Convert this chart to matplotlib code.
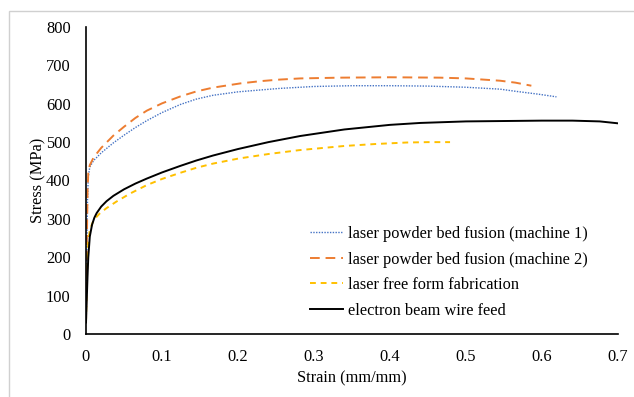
import matplotlib.pyplot as plt
from matplotlib.patches import Rectangle

plt.rcParams['font.family'] = ['Liberation Serif', 'DejaVu Serif']

# machine 1 (laser powder bed fusion)
lpbf1_strain = [0.0, 0.001, 0.002, 0.003, 0.005, 0.01, 0.02, 0.036, 0.05, 0.065, 0.08, 0.1,
                0.124, 0.145, 0.167, 0.2, 0.23, 0.255, 0.3, 0.35, 0.4, 0.45, 0.5, 0.545,
                0.567, 0.595, 0.619]
lpbf1_stress = [30, 200, 350, 410, 435, 452, 472, 498, 518, 538, 556, 577,
                598, 612, 622, 631, 636, 640, 645, 647, 647, 646, 643, 638,
                632, 625, 618]

# machine 2
lpbf2_strain = [0.0, 0.001, 0.002, 0.003, 0.005, 0.01, 0.02, 0.036, 0.05, 0.065, 0.08, 0.1,
                0.124, 0.145, 0.167, 0.203, 0.23, 0.255, 0.282, 0.334, 0.4, 0.466, 0.5,
                0.545, 0.565, 0.586]
lpbf2_stress = [30, 220, 370, 420, 440, 460, 485, 517, 540, 563, 582, 601,
                619, 632, 642, 653, 659, 663, 666, 668, 669, 668, 666,
                660, 655, 647]

# laser free form fabrication
lfff_strain = [0.0, 0.001, 0.002, 0.003, 0.005, 0.01, 0.018, 0.027, 0.04, 0.058, 0.08, 0.1,
               0.124, 0.145, 0.167, 0.2, 0.24, 0.28, 0.34, 0.38, 0.422, 0.45, 0.479]
lfff_stress = [30, 120, 200, 240, 271, 297, 314, 328, 345, 366, 388, 404,
               420, 433, 444, 457, 469, 479, 490, 495, 499, 500, 500]

# electron beam wire feed
ebwf_strain = [0.0, 0.001, 0.002, 0.003, 0.005, 0.008, 0.011, 0.014, 0.02, 0.027, 0.036, 0.05,
               0.065, 0.08, 0.1, 0.124, 0.145, 0.167, 0.2, 0.24, 0.282, 0.34, 0.4, 0.44,
               0.5, 0.55, 0.6, 0.64, 0.676, 0.7]
ebwf_stress = [30, 90, 150, 200, 254, 285, 303, 315, 332, 346, 360, 377,
               392, 405, 421, 438, 452, 465, 482, 500, 516, 533, 545, 550,
               554, 555, 556, 556, 554, 549]

xticks = [0, 0.1, 0.2, 0.3, 0.4, 0.5, 0.6, 0.7]
xticklabels = ['0', '0.1', '0.2', '0.3', '0.4', '0.5', '0.6', '0.7']
yticks = [0, 100, 200, 300, 400, 500, 600, 700, 800]

fs = 11.8
W, H = 634, 397

fig = plt.figure(figsize=(6.34, 3.97), dpi=100)
ax = fig.add_axes([86 / W, 1 - 334 / H, 532 / W, 307 / H])

# light outer frame of the excel chart area
fig.patches.append(Rectangle((9 / W, -0.05), 1.0, 1 - 11 / H + 0.05,
                             transform=fig.transFigure, fill=False,
                             edgecolor='#d0d0d0', linewidth=1.0))

ax.plot(lpbf1_strain, lpbf1_stress, color='#4472C4', linestyle=(0, (1, 1)), linewidth=1.0,
        label='laser powder bed fusion (machine 1)')
ax.plot(lpbf2_strain, lpbf2_stress, color='#ED7D31', linestyle=(0, (5, 3)), linewidth=1.4,
        label='laser powder bed fusion (machine 2)')
ax.plot(lfff_strain, lfff_stress, color='#FFC000', linestyle=(0, (3, 2.5)), linewidth=1.4,
        label='laser free form fabrication')
ax.plot(ebwf_strain, ebwf_stress, color='black', linewidth=1.4,
        label='electron beam wire feed')

ax.set_xlim(0, 0.7)
ax.set_ylim(0, 800)
ax.set_xticks(xticks)
ax.set_xticklabels(xticklabels)
ax.set_yticks(yticks)
ax.tick_params(axis='y', length=0, labelsize=fs, pad=11)
ax.tick_params(axis='x', length=0, labelsize=fs, pad=10.5)
for side in ['top', 'right']:
    ax.spines[side].set_visible(False)
for side in ['left', 'bottom']:
    ax.spines[side].set_linewidth(1.2)

ax.set_xlabel('Strain (mm/mm)', fontsize=fs, labelpad=4.5)
ax.set_ylabel('Stress (MPa)', fontsize=fs, labelpad=0)

ax.legend(loc='upper left', bbox_to_anchor=(310 / W, 1 - 226 / H),
          bbox_transform=fig.transFigure, frameon=False, fontsize=fs,
          borderpad=0, borderaxespad=0, handlelength=2.0, handletextpad=0.3,
          labelspacing=0.58)

fig.savefig('out.png', dpi=100)
